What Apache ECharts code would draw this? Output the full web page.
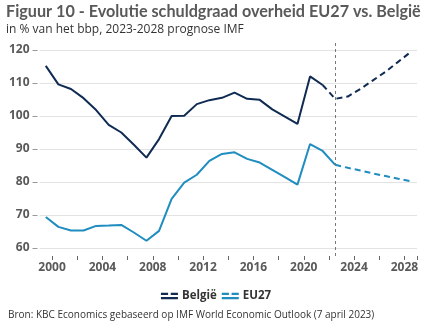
<!DOCTYPE html>
<html>
<head>
<meta charset="utf-8">
<script src="https://cdn.jsdelivr.net/npm/echarts@6/dist/echarts.min.js"></script>
<style>html,body{margin:0;padding:0;background:#fff;}#c{width:432px;height:334px;}</style>
</head>
<body>
<div id="c"></div>
<script>
const years = ['1999','2000','2001','2002','2003','2004','2005','2006','2007','2008','2009','2010','2011','2012','2013','2014','2015','2016','2017','2018','2019','2020','2021','2022','2023','2024','2025','2026','2027','2028'];
const belgie = [115.2,109.6,108.2,105.4,101.8,97.3,95.0,91.3,87.4,93.0,100.0,100.1,103.6,104.8,105.5,107.1,105.2,104.9,102.0,99.8,97.6,112.0,109.4,105.2,105.9,108.2,110.8,113.4,116.4,119.4];
const eu27 = [69.4,66.4,65.3,65.3,66.7,66.8,67.0,64.7,62.2,65.2,74.9,79.8,82.2,86.4,88.5,89.0,87.0,85.9,83.7,81.5,79.2,91.5,89.4,85.2,84.3,83.5,82.6,81.8,81.0,80.2];
const belgieLastActual = '2021';
const euLastActual = '2022';
const forecastLine = '2022';
const yTicks = {min: 60, max: 120, step: 10};

function split(values, lastYear) {
  const k = years.indexOf(lastYear);
  const actual = values.map((v, i) => i <= k ? v : '-');
  const forecast = values.map((v, i) => i >= k ? v : '-');
  return [actual, forecast];
}
const [beA, beF] = split(belgie, belgieLastActual);
const [euA, euF] = split(eu27, euLastActual);

const cBE = '#0f2b52';
const cEU = '#1f8dc0';
const font = 'Open Sans';
const iconPath = 'path://M0,0H8V2.5H0Z M11,0H19V2.5H11Z M0,5H19V7.5H0Z';

const chart = echarts.init(document.getElementById('c'), null, {renderer: 'canvas'});
chart.setOption({
  animation: false,
  textStyle: {fontFamily: font},
  title: [
    {
      text: 'Figuur 10 - Evolutie schuldgraad overheid EU27 vs. België',
      subtext: 'in % van het bbp, 2023-2028 prognose IMF',
      left: 6, top: 4, itemGap: 4, padding: 0,
      textStyle: {fontFamily: 'Lato', fontSize: 16.2, fontWeight: 'bold', color: '#595959'},
      subtextStyle: {fontFamily: font, fontSize: 12, color: '#333'}
    },
    {
      text: 'Bron: KBC Economics gebaseerd op IMF World Economic Outlook (7 april 2023)',
      left: 8, top: 310, padding: 0,
      textStyle: {fontFamily: font, fontSize: 10, fontWeight: 'normal', color: '#333'}
    }
  ],
  legend: {
    top: 285, left: 'center', itemGap: 5, itemWidth: 17, itemHeight: 7.5,
    textStyle: {fontFamily: font, fontSize: 11.5, fontWeight: 'bold', color: '#333', padding: [0,0,0,-1]},
    itemStyle: {borderWidth: 0},
    data: [
      {name: 'België', icon: iconPath, itemStyle: {color: cBE, borderWidth: 0}},
      {name: 'EU27', icon: iconPath, itemStyle: {color: cEU, borderWidth: 0}}
    ]
  },
  grid: [
    {left: 39.5, right: 15, top: 50, bottom: 86},
    {left: 39.5, right: 15, top: 40, bottom: 78}
  ],
  xAxis: [
    {
      type: 'category', data: years, boundaryGap: true, offset: 8, gridIndex: 0,
      axisLine: {show: false},
      axisTick: {show: true, length: 4, interval: (i) => i % 2 === 1, lineStyle: {color: '#666'}},
      axisLabel: {interval: (i) => i % 4 === 1, margin: 6, padding: [0, 12.6, 0, 0],
        fontFamily: font, fontSize: 12, fontWeight: 'bold', color: '#595959'},
      splitLine: {show: false}
    },
    {type: 'category', data: years, boundaryGap: true, gridIndex: 1, show: false}
  ],
  yAxis: [
    {
      type: 'value', min: yTicks.min, max: yTicks.max, interval: yTicks.step, offset: 2, gridIndex: 0,
      axisLine: {show: false},
      axisTick: {show: true, length: 5, lineStyle: {color: '#999'}},
      axisLabel: {margin: 8, fontFamily: font, fontSize: 12, fontWeight: 'bold', color: '#595959'},
      splitLine: {lineStyle: {color: '#e3e3e3', width: 1}}
    },
    {type: 'value', min: 0, max: 1, gridIndex: 1, show: false}
  ],
  series: [
    {name: 'België', type: 'line', data: beA, symbol: 'none', lineStyle: {color: cBE, width: 2}, itemStyle: {color: cBE}, z: 3},
    {name: 'België', type: 'line', data: beF, symbol: 'none', lineStyle: {color: cBE, width: 2, type: [6, 4]}, itemStyle: {color: cBE}, z: 3},
    {name: 'EU27', type: 'line', data: euA, symbol: 'none', lineStyle: {color: cEU, width: 2}, itemStyle: {color: cEU}, z: 3},
    {name: 'EU27', type: 'line', data: euF, symbol: 'none', lineStyle: {color: cEU, width: 2, type: [6, 4]}, itemStyle: {color: cEU}, z: 3},
    {name: 'prognose', type: 'line', xAxisIndex: 1, yAxisIndex: 1, data: [], symbol: 'none', silent: true,
      markLine: {silent: true, symbol: 'none', label: {show: false}, animation: false,
        lineStyle: {color: '#777', width: 1, type: [3, 3]},
        data: [{xAxis: forecastLine}]}}
  ]
});
</script>
</body>
</html>
